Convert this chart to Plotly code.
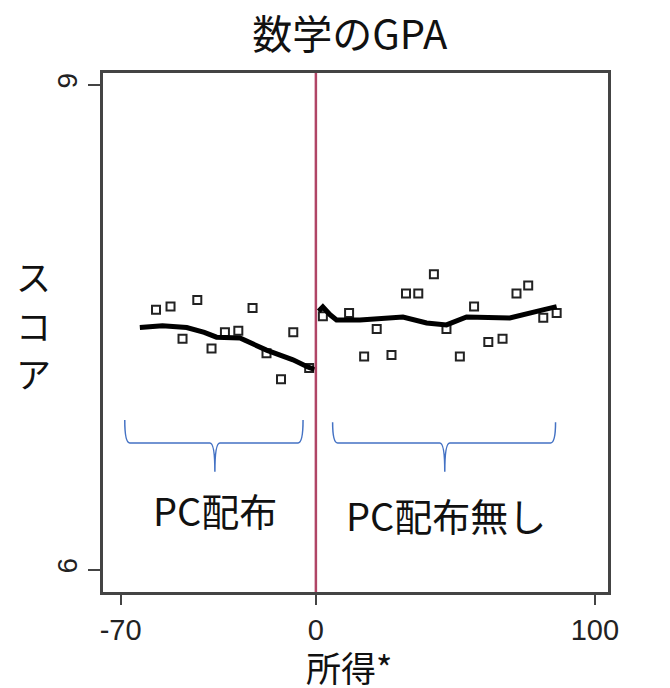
import plotly.graph_objects as go

# ---- data ----
left_x = [-57.3, -52.1, -42.5, -47.8, -37.4, -32.6, -27.8, -22.7, -17.7, -8.1, -12.5, -2.4]
left_y = [7.61, 7.63, 7.67, 7.43, 7.37, 7.47, 7.48, 7.62, 7.34, 7.47, 7.18, 7.25]
right_x = [2.5, 11.9, 21.8, 17.3, 27.1, 32.3, 36.7, 42.3, 46.8, 51.6, 56.7, 61.8, 66.9, 71.9, 76.1, 81.5, 86.3]
right_y = [7.57, 7.59, 7.49, 7.32, 7.33, 7.71, 7.71, 7.83, 7.49, 7.32, 7.63, 7.41, 7.43, 7.71, 7.76, 7.56, 7.59]
fit_left_x = [-63.1, -55.0, -46.3, -40.0, -35.6, -27.2, -17.7, -8.2, -2.9, -0.5]
fit_left_y = [7.50, 7.51, 7.50, 7.47, 7.44, 7.435, 7.36, 7.30, 7.256, 7.24]
fit_right_x = [1.0, 2.5, 5.0, 7.4, 15.8, 31.2, 39.7, 46.8, 54.0, 69.5, 81.4, 86.3]
fit_right_y = [7.60, 7.627, 7.58, 7.547, 7.547, 7.565, 7.528, 7.516, 7.565, 7.559, 7.609, 7.629]
x_ticks = [-70, 0, 100]
y_ticks = [6, 9]
title = "数学のGPA"
x_label = "所得*"
y_label = "スコア"
group_labels = ["PC配布", "PC配布無し"]

CJK = "Noto Sans CJK JP"
W, H = 670, 688
L, R, T, B = 103, 62, 73, 96
PW, PH = W - L - R, H - T - B


def px_x(p):
    return (p - L) / PW


def px_y(p):
    return (H - B - p) / PH


fig = go.Figure()

for xs, ys in [(left_x, left_y), (right_x, right_y)]:
    fig.add_trace(go.Scatter(x=xs, y=ys, mode="markers",
                             marker=dict(symbol="square-open", size=8, color="#222",
                                         line=dict(width=2, color="#222")),
                             showlegend=False))
for xs, ys in [(fit_left_x, fit_left_y), (fit_right_x, fit_right_y)]:
    fig.add_trace(go.Scatter(x=xs, y=ys, mode="lines",
                             line=dict(color="black", width=5),
                             showlegend=False))

# red cutoff line
fig.add_shape(type="line", xref="x", yref="paper", x0=0, x1=0, y0=0, y1=1,
              line=dict(color="#b04566", width=2.5))


def brace(x1, x2, xm, ytop, ybar, ytip, dx=1.8):
    return (f"M {x1},{ytop} Q {x1},{ybar} {x1+dx},{ybar} L {xm-dx},{ybar} "
            f"Q {xm},{ybar} {xm},{ytip} Q {xm},{ybar} {xm+dx},{ybar} "
            f"L {x2-dx},{ybar} Q {x2},{ybar} {x2},{ytop}")


for (x1, x2, xm, ytop) in [(-68.5, -4.6, -36.2, 6.928), (6.0, 85.9, 46.2, 6.914)]:
    fig.add_shape(type="path", xref="x", yref="y",
                  path=brace(x1, x2, xm, ytop, 6.786, 6.607),
                  line=dict(color="#4472C4", width=1.5))

fig.add_annotation(x=-36.2, y=6.372, xref="x", yref="y", text=group_labels[0],
                   showarrow=False, font=dict(family=CJK, size=38, color="#111"))
fig.add_annotation(x=46.5, y=6.341, xref="x", yref="y", text=group_labels[1],
                   showarrow=False, font=dict(family=CJK, size=38, color="#111"))

# y label stacked, one character per line
for ch, yp in zip(y_label, [275, 324, 373]):
    fig.add_annotation(x=px_x(33), y=px_y(yp), xref="paper", yref="paper", text=ch,
                       showarrow=False, xanchor="center", yanchor="middle",
                       font=dict(family=CJK, size=35, color="#111"))

# x label
fig.add_annotation(x=px_x(349), y=px_y(666), xref="paper", yref="paper", text=x_label,
                   showarrow=False, xanchor="center", yanchor="middle", borderpad=0,
                   font=dict(family=CJK, size=35, color="#111"))

fig.update_layout(
    width=W, height=H,
    margin=dict(l=L, r=R, t=T, b=B),
    paper_bgcolor="white", plot_bgcolor="white",
    title=dict(text=title, x=0.522, xanchor="center", y=1 - 35 / H, yanchor="middle",
               xref="container", yref="container",
               font=dict(family=CJK, size=40, color="#111")),
    xaxis=dict(range=[-76.3, 104.7], tickvals=x_ticks, ticktext=[str(v) for v in x_ticks],
               showgrid=False, zeroline=False, showline=True, linecolor="#444", linewidth=3,
               mirror=True, ticks="outside", ticklen=10, tickwidth=2, tickcolor="#444",
               automargin=False,
               tickfont=dict(family="Liberation Sans", size=29, color="#222")),
    yaxis=dict(range=[5.864, 9.074], tickvals=y_ticks, ticktext=[str(v) for v in y_ticks],
               showgrid=False, zeroline=False, showline=True, linecolor="#444", linewidth=3,
               mirror=True, ticks="outside", ticklen=12, tickwidth=2, tickcolor="#444",
               tickangle=-90, automargin=False,
               tickfont=dict(family="Liberation Sans", size=28, color="#222")),
)

fig.write_html("out.html", config={"displayModeBar": False},
               post_script="document.body.style.margin='0';document.body.style.overflow='hidden';")
